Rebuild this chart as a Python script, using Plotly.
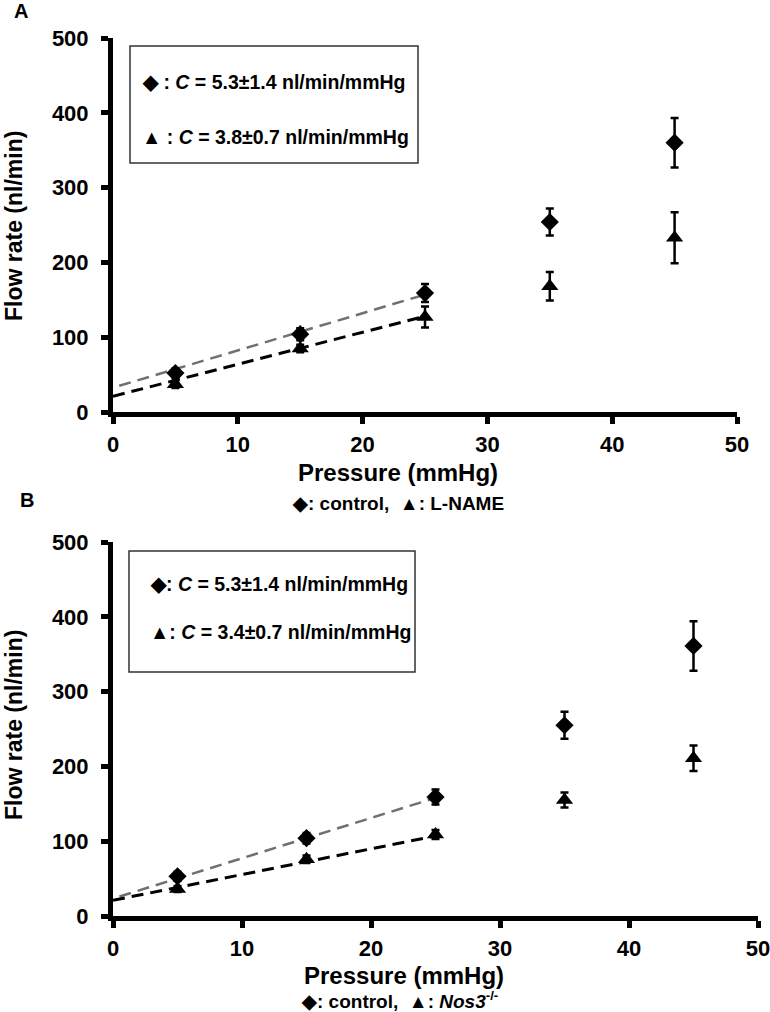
import plotly.graph_objects as go

# ---------------- data ----------------
pressure = [5, 15, 25, 35, 45]

# Panel A: control vs L-NAME
a_control = [52, 104, 159, 254, 360]
a_control_err = [6, 8, 12, 18, 33]
a_lname = [37, 85, 127, 168, 233]
a_lname_err = [5, 5, 14, 19, 34]

a_fit_control_x = [0.5, 25]
a_fit_control_y = [35, 157]
a_fit_lname_x = [0, 25]
a_fit_lname_y = [21, 128]

# Panel B: control vs Nos3-/-
b_control = [53, 104, 159, 255, 361]
b_control_err = [6, 7, 10, 18, 33]
b_nos3 = [36, 76, 109, 155, 211]
b_nos3_err = [4, 5, 6, 10, 17]

b_fit_control_x = [0.5, 25]
b_fit_control_y = [26, 158]
b_fit_nos3_x = [0, 25]
b_fit_nos3_y = [21, 107]

x_ticks = [0, 10, 20, 30, 40, 50]
y_ticks = [0, 100, 200, 300, 400, 500]

legend_a = ["◆ : <i>C</i> = 5.3±1.4 nl/min/mmHg", "▲ : <i>C</i> = 3.8±0.7 nl/min/mmHg"]
legend_b = ["◆: <i>C</i> = 5.3±1.4 nl/min/mmHg", "▲: <i>C</i> = 3.4±0.7 nl/min/mmHg"]
caption_a = "◆: control,  ▲: L-NAME"
caption_b = "◆: control,  ▲: <i>Nos3</i><sup>-/-</sup>"

# ---------------- layout helpers ----------------
W, H = 770, 1012
def px(x):
    return x / W
def py(y):
    return 1 - y / H

FONT = "Liberation Sans, Arial, sans-serif"
GRAY = "#707070"

fig = go.Figure()

def add_panel(xa, ya, fit_c_x, fit_c_y, fit_t_x, fit_t_y, ctrl, ctrl_err, tri, tri_err, name_t):
    fig.add_trace(go.Scatter(x=fit_c_x, y=fit_c_y, mode="lines", xaxis=xa, yaxis=ya,
                             line=dict(color=GRAY, width=2.5, dash="12px,7px"),
                             showlegend=False, hoverinfo="skip"))
    fig.add_trace(go.Scatter(x=fit_t_x, y=fit_t_y, mode="lines", xaxis=xa, yaxis=ya,
                             line=dict(color="black", width=3, dash="12px,7px"),
                             showlegend=False, hoverinfo="skip"))
    fig.add_trace(go.Scatter(x=pressure, y=ctrl, mode="markers", xaxis=xa, yaxis=ya,
                             name="control",
                             marker=dict(symbol="diamond", size=14, color="black"),
                             error_y=dict(type="data", array=ctrl_err, color="black",
                                          thickness=2.5, width=4),
                             showlegend=False))
    fig.add_trace(go.Scatter(x=pressure, y=tri, mode="markers", xaxis=xa, yaxis=ya,
                             name=name_t,
                             marker=dict(symbol="triangle-up", size=15, color="black"),
                             error_y=dict(type="data", array=tri_err, color="black",
                                          thickness=2.5, width=4),
                             showlegend=False))

add_panel("x", "y", a_fit_control_x, a_fit_control_y, a_fit_lname_x, a_fit_lname_y,
          a_control, a_control_err, a_lname, a_lname_err, "L-NAME")
add_panel("x2", "y2", b_fit_control_x, b_fit_control_y, b_fit_nos3_x, b_fit_nos3_y,
          b_control, b_control_err, b_nos3, b_nos3_err, "Nos3-/-")

axis_common = dict(showline=True, linewidth=5, linecolor="black", ticks="outside",
                   ticklen=7, tickwidth=5, tickcolor="black", showgrid=False,
                   zeroline=False, automargin=False, ticklabeloverflow="allow",
                   tickfont=dict(family=FONT, size=22, color="black", weight="bold"),
                   fixedrange=True)

fig.update_layout(
    width=W, height=H,
    margin=dict(l=0, r=0, t=0, b=0, autoexpand=False),
    paper_bgcolor="white", plot_bgcolor="white",
    showlegend=False,
    xaxis=dict(domain=[px(113), px(737)], range=[0, 50], tickvals=x_ticks,
               anchor="y", ticklabelstandoff=2, **axis_common),
    yaxis=dict(domain=[py(412), py(38)], range=[0, 500], tickvals=y_ticks,
               anchor="x", ticklabelstandoff=8, **axis_common),
    xaxis2=dict(domain=[px(113), px(758)], range=[0, 50], tickvals=x_ticks,
                anchor="y2", ticklabelstandoff=2, **axis_common),
    yaxis2=dict(domain=[py(916), py(542)], range=[0, 500], tickvals=y_ticks,
                anchor="x2", ticklabelstandoff=8, **axis_common),
)

shapes = [
    dict(type="rect", xref="paper", yref="paper", x0=px(130), x1=px(418), y0=py(163), y1=py(46),
         line=dict(color="#333333", width=1.5), fillcolor="white", layer="below"),
    dict(type="rect", xref="paper", yref="paper", x0=px(129), x1=px(415), y0=py(672), y1=py(551),
         line=dict(color="#333333", width=1.5), fillcolor="white", layer="below"),
]
fig.update_layout(shapes=shapes)

def ann(text, x, y, size, xanchor="center", angle=0):
    fig.add_annotation(text=text, x=px(x), y=py(y), xref="paper", yref="paper",
                       xanchor=xanchor, yanchor="middle", showarrow=False, textangle=angle,
                       font=dict(family=FONT, size=size, color="black", weight="bold"))

ann("A", 21, 11, 20)
ann("B", 27, 500, 20)
ann(legend_a[0], 140, 82, 19.5, "left")
ann(legend_a[1], 140, 137, 19.5, "left")
ann(legend_b[0], 148, 584, 19.5, "left")
ann(legend_b[1], 148, 632, 19.5, "left")
ann("Flow rate (nl/min)", 14, 226, 23, angle=-90)
ann("Flow rate (nl/min)", 14, 725, 23, angle=-90)
ann("Pressure (mmHg)", 398, 472, 24)
ann("Pressure (mmHg)", 404, 975, 24)
ann(caption_a, 398, 503, 19)
ann(caption_b, 400, 1000, 19)

fig.write_html("out.html", config={"displayModeBar": False},
               post_script="document.body.style.margin='0';document.body.style.overflow='hidden';")
